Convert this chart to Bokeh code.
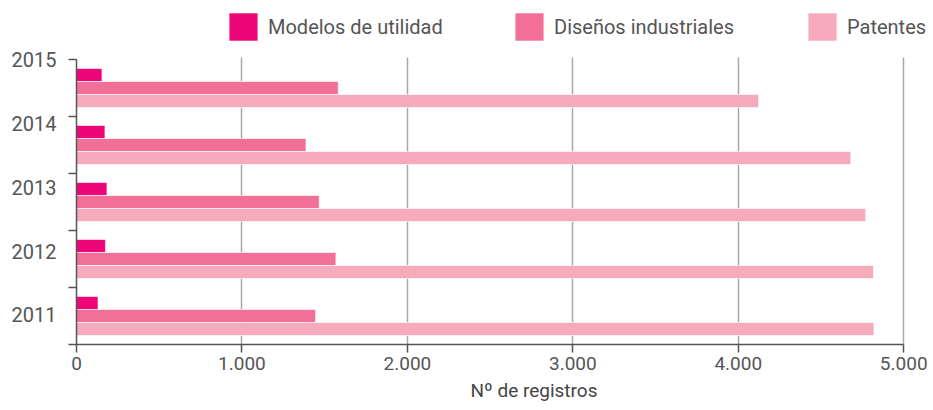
from bokeh.plotting import figure
from bokeh.models import (Range1d, FixedTicker, Legend, LegendItem, ColumnDataSource,
                          BoxAnnotation, Title)
from bokeh.embed import file_html
from bokeh.resources import INLINE

# ---- data ----
years = ["2011", "2012", "2013", "2014", "2015"]
modelos = [130, 175, 184, 172, 154]
disenos = [1445, 1568, 1467, 1387, 1582]
patentes = [4820, 4817, 4770, 4680, 4123]
series_names = ["Modelos de utilidad", "Diseños industriales", "Patentes"]
series_colors = ["#ED0677", "#F27097", "#F6ABBC"]
x_ticks = [0, 1000, 2000, 3000, 4000, 5000]
x_tick_labels = ["0", "1.000", "2.000", "3.000", "4.000", "5.000"]
x_title = "Nº de registros"
# label positions as drawn in the original (slightly staggered)
year_label_pos = [0.53, 1.63, 2.75, 3.88, 5.0]

FONT = "Roboto"
TXT = "#555555"

centers = [i + 0.5 for i in range(len(years))]
bar_h = 0.228
offsets = [bar_h, 0.0, -bar_h]

# value axis 0..5000 over 827 px; frame extended right/up for the legend area
p = figure(width=933, height=410, output_backend="svg", toolbar_location=None,
           x_range=Range1d(0, 5180), y_range=Range1d(0, 5.93),
           min_border_left=76, min_border_right=0, min_border_top=6,
           min_border_bottom=66)
p.outline_line_color = None
p.ygrid.visible = False
p.xgrid.grid_line_color = "#A8A8A8"
p.xgrid.grid_line_width = 1.5

renderers = []
for vals, off, col in zip([modelos, disenos, patentes], offsets, series_colors):
    src = ColumnDataSource(dict(y=[c + off for c in centers], right=vals))
    r = p.hbar(y="y", right="right", left=0, height=bar_h, source=src,
               fill_color=col, line_color="white", line_alpha=0.6, line_width=1)
    renderers.append(r)

# hide gridlines above the plotting area (legend zone)
p.add_layout(BoxAnnotation(bottom=5.035, fill_color="white", fill_alpha=1.0,
                           line_alpha=0, level="underlay"))

# x axis
xa = p.xaxis[0]
xa.bounds = (0, 5000)
xa.ticker = FixedTicker(ticks=x_ticks)
xa.major_label_overrides = {t: l for t, l in zip(x_ticks, x_tick_labels)}
xa.axis_line_color = "#555555"
xa.axis_line_width = 1.5
xa.major_tick_line_color = "#555555"
xa.major_tick_line_width = 1.5
xa.major_tick_out = 8
xa.major_tick_in = 0
xa.minor_tick_line_color = None
xa.major_label_text_font = FONT
xa.major_label_text_font_size = "19px"
xa.major_label_text_color = TXT
xa.major_label_standoff = 4

p.add_layout(Title(text=x_title, align="left", offset=394, standoff=8,
                   text_font=FONT, text_font_size="19px", text_font_style="normal",
                   text_color="#444444"), "below")

# y axis
ya = p.yaxis[0]
ya.bounds = (0, 5)
ya.ticker = FixedTicker(ticks=year_label_pos, minor_ticks=[0, 1, 2, 3, 4, 5])
ya.major_label_overrides = {t: l for t, l in zip(year_label_pos, years)}
ya.axis_line_color = "#555555"
ya.axis_line_width = 1.5
ya.major_tick_line_color = None
ya.major_tick_out = 0
ya.major_tick_in = 0
ya.minor_tick_line_color = "#555555"
ya.minor_tick_line_width = 1.5
ya.minor_tick_out = 8
ya.minor_tick_in = 0
ya.major_label_text_font = FONT
ya.major_label_text_font_size = "20px"
ya.major_label_text_color = TXT
ya.major_label_standoff = 12

# legends, one per series, positioned individually (pixels from frame bottom-left)
leg_x = [149, 435, 728]
for name, r, lx in zip(series_names, renderers, leg_x):
    lg = Legend(items=[LegendItem(label=name, renderers=[r])],
                location=(lx, 300), orientation="horizontal",
                glyph_width=36, glyph_height=35, label_standoff=7,
                padding=0, margin=0, border_line_alpha=0,
                background_fill_alpha=0,
                label_text_font=FONT, label_text_font_size="20px",
                label_text_color=TXT)
    p.add_layout(lg, "center")

open("out.html", "w").write(file_html(p, INLINE))
